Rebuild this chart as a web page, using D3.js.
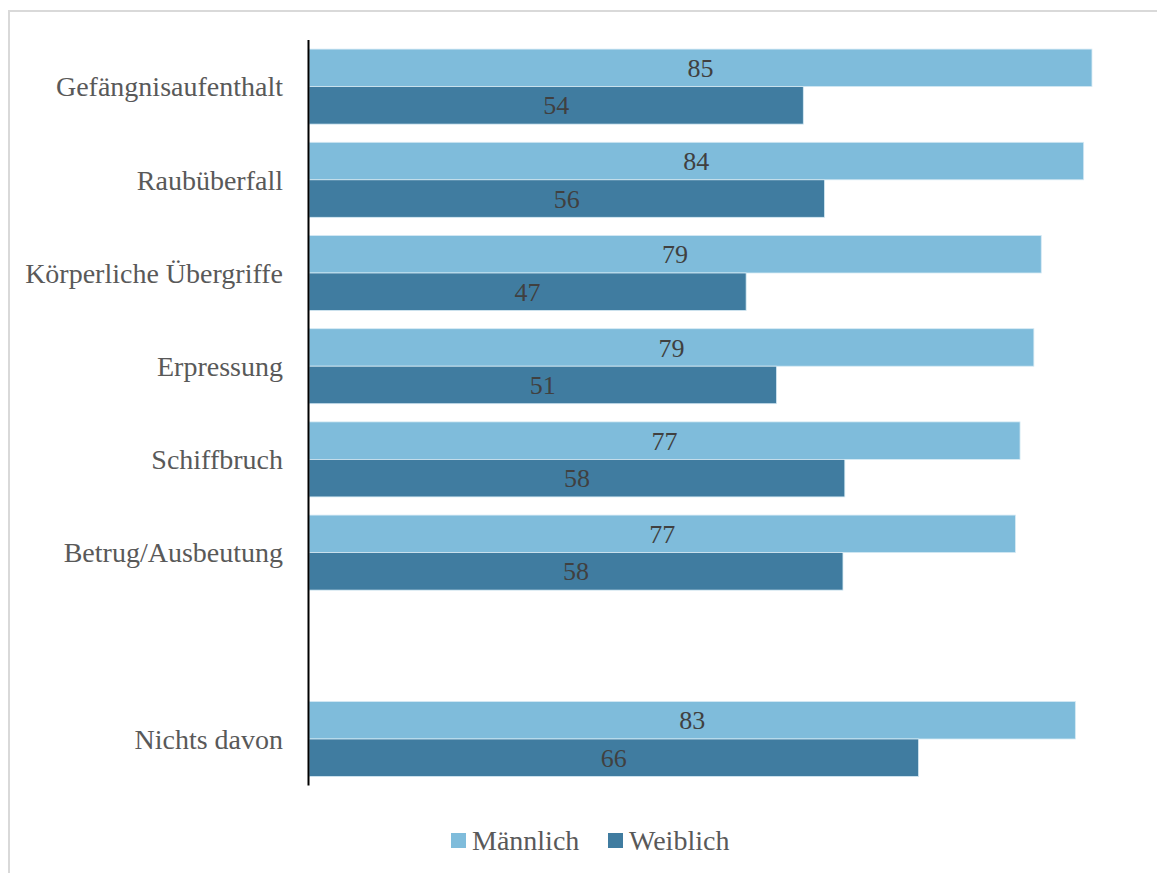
<!DOCTYPE html>
<html>
<head>
<meta charset="utf-8">
<script src="https://cdn.jsdelivr.net/npm/d3@7"></script>
<style>
  html, body { margin: 0; padding: 0; background: #fff; }
  svg { display: block; }
  text { font-family: "Liberation Serif", "Times New Roman", serif; }
</style>
</head>
<body>
<svg id="chart" width="1157" height="873"></svg>
<script>
const categories = ["Gefängnisaufenthalt", "Raubüberfall", "Körperliche Übergriffe", "Erpressung", "Schiffbruch", "Betrug/Ausbeutung", "", "Nichts davon"];
const maennlich = [84.9, 84.0, 79.4, 78.6, 77.1, 76.6, null, 83.1];
const weiblich  = [53.6, 55.9, 47.4, 50.7, 58.1, 57.9, null, 66.1];
const seriesNames = ["Männlich", "Weiblich"];
const seriesColors = ["#7fbcdb", "#407ca0"];

(function () {
const svg = d3.select("#chart");

// outer frame
svg.append("rect")
  .attr("x", 9).attr("y", 11)
  .attr("width", 1170).attr("height", 880)
  .attr("fill", "none")
  .attr("stroke", "#d9d9d9")
  .attr("stroke-width", 2);

const plotLeft = 309, plotRight = 1139, plotTop = 40, plotBottom = 785.6;

const x = d3.scaleLinear().domain([0, 90]).range([plotLeft, plotRight]);
const keys = categories.map((c, i) => "c" + i);
const y = d3.scaleBand().domain(keys).range([plotTop, plotBottom]).paddingInner(0.195).paddingOuter(0.0975);
const ySub = d3.scaleBand().domain(seriesNames).range([0, y.bandwidth()]);

const rows = categories.map((c, i) => ({
  key: keys[i], label: c,
  values: [maennlich[i], weiblich[i]]
}));

const g = svg.append("g");
const fmt = d3.format(".0f");

rows.forEach(r => {
  r.values.forEach((v, si) => {
    if (v == null) return;
    const yy = y(r.key) + ySub(seriesNames[si]);
    g.append("rect")
      .attr("x", x(0))
      .attr("y", yy)
      .attr("width", x(v) - x(0))
      .attr("height", ySub.bandwidth())
      .attr("fill", seriesColors[si])
      .attr("stroke", "#d6eaf4")
      .attr("stroke-width", 0.8);
    g.append("text")
      .attr("x", (x(0) + x(v)) / 2)
      .attr("y", yy + ySub.bandwidth() / 2)
      .attr("dy", "0.35em")
      .attr("text-anchor", "middle")
      .attr("font-size", 26)
      .attr("fill", "#404040")
      .text(fmt(v));
  });
  if (r.label) {
    g.append("text")
      .attr("x", 283)
      .attr("y", y(r.key) + y.bandwidth() / 2)
      .attr("dy", "0.35em")
      .attr("text-anchor", "end")
      .attr("font-size", 28)
      .attr("fill", "#595959")
      .text(r.label);
  }
});

// vertical axis line
svg.append("line")
  .attr("x1", plotLeft - 0.5).attr("x2", plotLeft - 0.5)
  .attr("y1", plotTop).attr("y2", plotBottom)
  .attr("stroke", "#000").attr("stroke-width", 2);

// legend
const legend = svg.append("g");
const legendItems = [{ name: seriesNames[0], color: seriesColors[0], lx: 451 }, { name: seriesNames[1], color: seriesColors[1], lx: 608 }];
legendItems.forEach(it => {
  legend.append("rect")
    .attr("x", it.lx).attr("y", 833)
    .attr("width", 15).attr("height", 15)
    .attr("fill", it.color);
  legend.append("text")
    .attr("x", it.lx + 21).attr("y", 840.5)
    .attr("dy", "0.35em")
    .attr("font-size", 28)
    .attr("fill", "#595959")
    .text(it.name);
});
})();
</script>
</body>
</html>
